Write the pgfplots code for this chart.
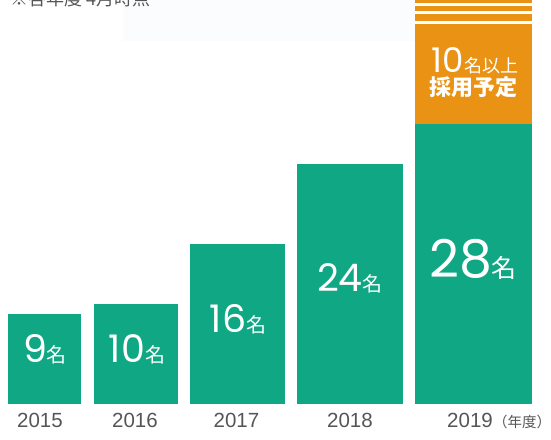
\documentclass[border=0pt]{standalone}
\usepackage{fontspec}
\setmainfont{Liberation Sans}
\newfontfamily\cjk{Noto Sans CJK JP}
\newfontfamily\numfont{Poppins}
\usepackage{pgfplots}
\pgfplotsset{compat=1.18}
\definecolor{bargreen}{RGB}{16,168,132}
\definecolor{barorange}{RGB}{233,146,20}
\definecolor{txtgray}{RGB}{85,85,85}
\definecolor{bandgray}{RGB}{251,252,253}
\newcommand{\lab}[3]{{\numfont\fontsize{#1}{#1}\selectfont #3}{\cjk\fontsize{#2}{#2}\selectfont 名}}
\newcommand{\yr}[1]{\fontsize{20.5}{20.5}\selectfont #1}
\begin{document}
\begin{tikzpicture}
\useasboundingbox (0,0) rectangle (551pt,439pt);
\begin{axis}[
  at={(0,0)}, anchor=south west,
  scale only axis, width=551pt, height=439pt,
  xmin=0, xmax=551, ymin=-3.5, ymax=40.4,
  hide axis, clip=false,
]
% faint background band behind the note
\addplot[fill=bandgray, draw=none] coordinates {(123,36.3) (415,36.3) (415,40.4) (123,40.4)} -- cycle;
% green bars (value = height, x = bar centre in px)
\addplot[ybar, bar width=73, bar shift=0, fill=bargreen, draw=none] coordinates {(44.5,9)};
\addplot[ybar, bar width=84, bar shift=0, fill=bargreen, draw=none] coordinates {(136,10)};
\addplot[ybar, bar width=95, bar shift=0, fill=bargreen, draw=none] coordinates {(237.5,16)};
\addplot[ybar, bar width=106, bar shift=0, fill=bargreen, draw=none] coordinates {(350,24)};
\addplot[ybar, bar width=117, bar shift=0, fill=bargreen, draw=none] coordinates {(473.5,28)};
% orange planned part (28 -> 38) and stripes above
\addplot[fill=barorange, draw=none] coordinates {(415,28) (532,28) (532,38) (415,38)} -- cycle;
\addplot[fill=barorange, draw=none] coordinates {(415,38.3) (532,38.3) (532,39.0) (415,39.0)} -- cycle;
\addplot[fill=barorange, draw=none] coordinates {(415,39.3) (532,39.3) (532,39.8) (415,39.8)} -- cycle;
\addplot[fill=barorange, draw=none] coordinates {(415,40.1) (532,40.1) (532,40.7) (415,40.7)} -- cycle;
% value labels
\node[white, anchor=base, inner sep=0pt] at (axis cs:45,4.2) {\lab{38}{20}{9}};
\node[white, anchor=base, inner sep=0pt] at (axis cs:137,4.2) {\lab{38}{20}{10}};
\node[white, anchor=base, inner sep=0pt] at (axis cs:238,7.1) {\lab{38}{20}{16}};
\node[white, anchor=base, inner sep=0pt] at (axis cs:350,11.2) {\lab{38}{20}{24}};
\node[white, anchor=base, inner sep=0pt] at (axis cs:473,12.6) {\lab{52}{25}{28}};
\node[white, anchor=base, inner sep=0pt] at (axis cs:475,33.1) {{\numfont\fontsize{34}{34}\selectfont 10}{\cjk\fontsize{18}{18}\selectfont 名以上}};
\node[white, anchor=base, inner sep=0pt] at (axis cs:473.5,30.8) {\cjk\bfseries\fontsize{22}{22}\selectfont 採用予定};
% year labels
\node[txtgray, anchor=base, inner sep=0pt] at (axis cs:40,-2.37) {\yr{2015}};
\node[txtgray, anchor=base, inner sep=0pt] at (axis cs:135,-2.37) {\yr{2016}};
\node[txtgray, anchor=base, inner sep=0pt] at (axis cs:236.5,-2.37) {\yr{2017}};
\node[txtgray, anchor=base, inner sep=0pt] at (axis cs:350,-2.37) {\yr{2018}};
\node[txtgray, anchor=base, inner sep=0pt] at (axis cs:470,-2.37) {\yr{2019}};
\node[txtgray, anchor=base west, inner sep=0pt] at (axis cs:493,-2.37) {\cjk\fontsize{14.5}{14.5}\selectfont （年度）};
% note
\node[txtgray, anchor=base west, inner sep=0pt] at (axis cs:10,39.85) {\cjk\fontsize{18}{18}\selectfont ※各年度 4月時点};
\end{axis}
\end{tikzpicture}
\end{document}
